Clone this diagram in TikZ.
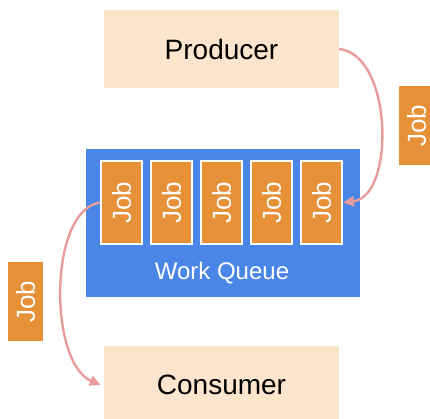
\documentclass[tikz,border=0pt]{standalone}
\usepackage{fontspec}
\setmainfont{Liberation Sans}
\usetikzlibrary{arrows.meta}
\definecolor{peach}{RGB}{252,229,205}
\definecolor{qblue}{RGB}{74,134,232}
\definecolor{jorange}{RGB}{230,145,56}
\definecolor{flow}{RGB}{232,156,156}
\tikzset{
  role/.style={fill=peach, draw=none, minimum width=235pt, minimum height=78pt,
    inner sep=0pt, font=\fontsize{28}{34}\selectfont, text=black},
  queuebox/.style={fill=qblue, draw=none, minimum width=274pt, minimum height=148pt, inner sep=0pt},
  slot/.style={fill=jorange, draw=white, line width=2pt, minimum width=41pt,
    minimum height=83pt, inner sep=0pt},
  slottext/.style={rotate=90, text=white, font=\fontsize{26}{31}\selectfont},
  tag/.style={fill=jorange, draw=none, minimum width=35pt, minimum height=79pt, inner sep=0pt},
  flowarrow/.style={draw=flow, line width=2.4pt, -{Triangle[length=11pt,width=10pt]}}
}
\begin{document}
\begin{tikzpicture}[x=1pt,y=-1pt]
  \useasboundingbox (0,0) rectangle (430,419);
  \begin{scope}
    \clip (0,0) rectangle (430,419);
    % producer and consumer
    \node[role] (prod) at (221.5,49) {Producer};
    \node[role] (cons) at (221.5,385) {Consumer};
    % the queue with its five jobs
    \node[queuebox] (queue) at (222.5,223) {};
    \foreach \i/\x in {1/121.5,2/171.5,3/221.5,4/271.5,5/321.5}{
      \node[slot] (j\i) at (\x,202.5) {};
      \node[slottext] (jt\i) at (j\i) {Job};
    }
    \node[text=white, font=\fontsize{24}{29}\selectfont] (qlabel) at (222,273) {Work Queue};
    % jobs in transit
    \node[tag] (tagin) at (416.5,126) {};
    \node[slottext] (tagintext) at (tagin) {Job};
    \node[tag] (tagout) at (25.5,301.5) {};
    \node[slottext] (tagouttext) at (tagout) {Job};
    % flows
    \draw[flowarrow] (prod.east) .. controls +(54,6) and +(52,-6) .. (j5.east);
    \draw[flowarrow] (j1.west) .. controls +(-52,8) and +(-52,-22) .. ([xshift=-3pt]cons.west);
  \end{scope}
\end{tikzpicture}
\end{document}
